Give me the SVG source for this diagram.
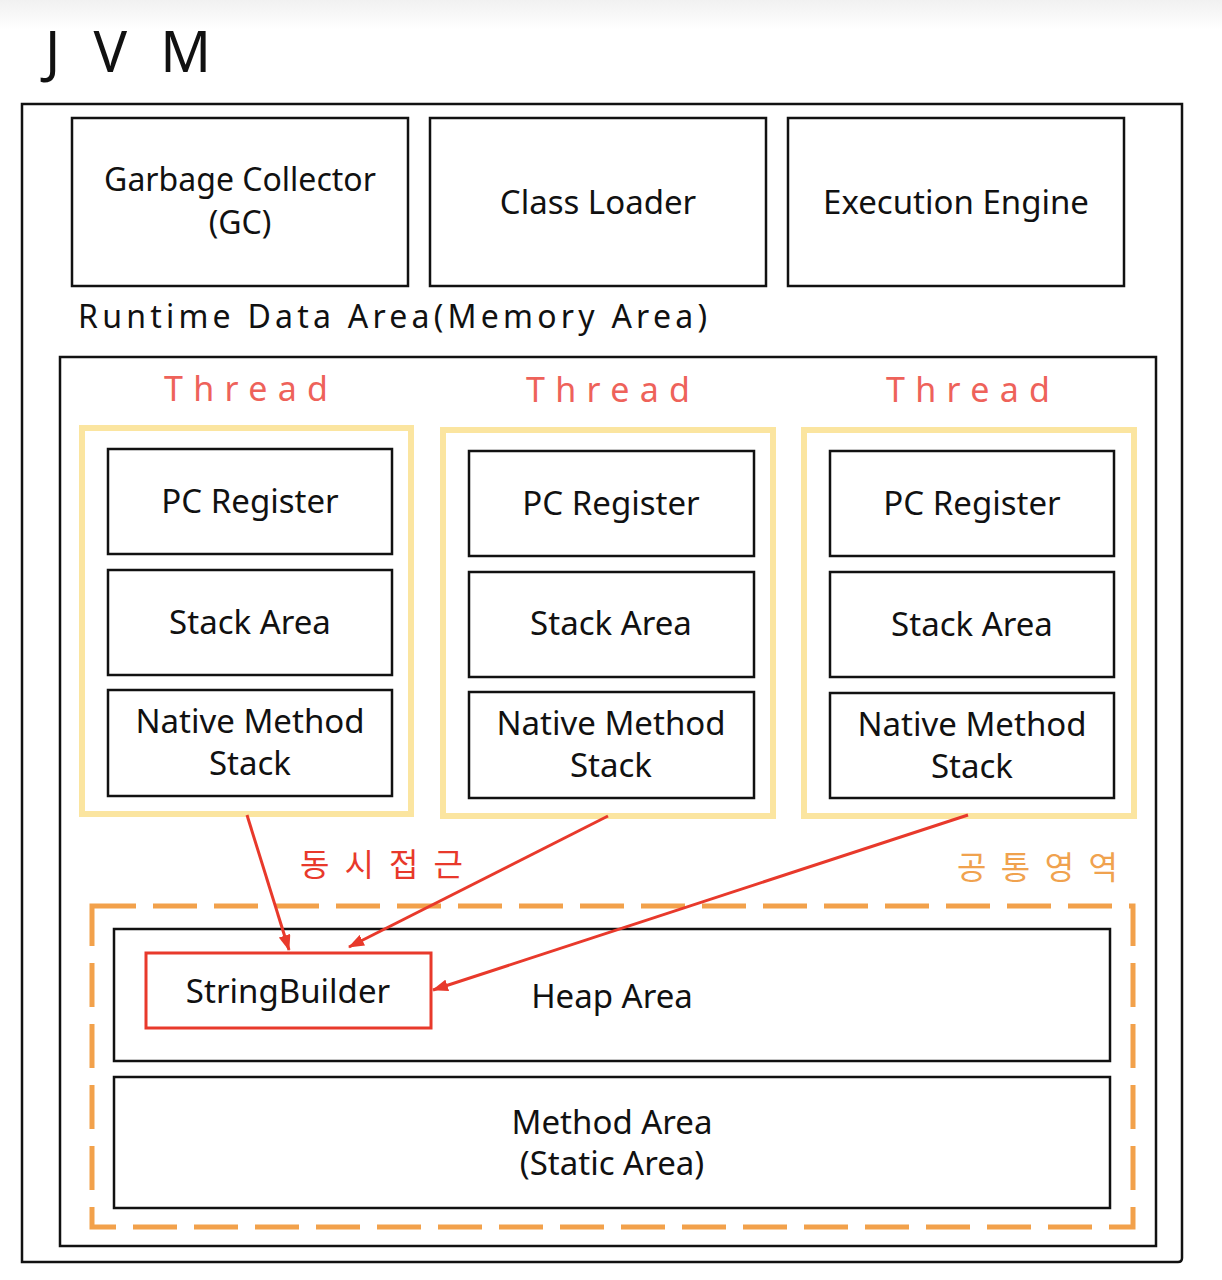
<svg xmlns="http://www.w3.org/2000/svg" width="1222" height="1280" viewBox="0 0 1222 1280">
<style>
  text { font-family: "Noto Sans", "Noto Sans CJK KR", "DejaVu Sans", sans-serif; fill: #111; }
  .box { fill: #fff; stroke: #111; stroke-width: 2.5; }
  .lbl { font-size: 33px; text-anchor: middle; }
  .thread { fill: none; stroke: #fbe5a0; stroke-width: 6; }
  .ttl { font-size: 34px; fill: #ee625a; }
  .conn { stroke: #e8392b; stroke-width: 3; fill: none; }
</style>
<defs>
  <linearGradient id="topfade" x1="0" y1="0" x2="0" y2="1">
    <stop offset="0" stop-color="#f1f1f1"/>
    <stop offset="1" stop-color="#ffffff"/>
  </linearGradient>
  <marker id="arr" viewBox="0 0 16 12" refX="15" refY="6" markerWidth="16" markerHeight="12" markerUnits="userSpaceOnUse" orient="auto">
    <path d="M0,0 L16,6 L0,12 Z" fill="#e8392b"/>
  </marker>
</defs>
<rect x="0" y="0" width="1222" height="1280" fill="#fff"/>
<rect x="0" y="0" width="1222" height="30" fill="url(#topfade)"/>

<text x="45" y="72" font-size="56" textLength="166" lengthAdjust="spacing">J V M</text>

<g id="jvm">
  <path d="M22,104 H1182 V1258 Q1182,1262 1178,1262 H22 Z" fill="none" stroke="#111" stroke-width="2.5"/>
</g>

<g id="gc">
  <rect class="box" x="72" y="118" width="336" height="168"/>
  <text class="lbl" x="240" y="191" font-size="32" style="font-size:32px">Garbage Collector</text>
  <text class="lbl" x="240" y="234" font-size="32" style="font-size:32px">(GC)</text>
</g>
<g id="classloader">
  <rect class="box" x="430" y="118" width="336" height="168"/>
  <text class="lbl" x="598" y="214">Class Loader</text>
</g>
<g id="engine">
  <rect class="box" x="788" y="118" width="336" height="168"/>
  <text class="lbl" x="956" y="214">Execution Engine</text>
</g>

<text x="78" y="328" font-size="32" textLength="629" lengthAdjust="spacing">Runtime Data Area(Memory Area)</text>

<g id="runtime">
  <rect x="60" y="357" width="1096" height="889" fill="none" stroke="#111" stroke-width="2.5"/>
</g>

<g id="thread1">
  <text class="ttl" x="164" y="401" textLength="164" lengthAdjust="spacing">Thread</text>
  <rect class="thread" x="82" y="428" width="329" height="386"/>
  <rect class="box" x="108" y="449" width="284" height="105"/>
  <text class="lbl" x="250" y="513">PC Register</text>
  <rect class="box" x="108" y="570" width="284" height="105"/>
  <text class="lbl" x="250" y="634">Stack Area</text>
  <rect class="box" x="108" y="690" width="284" height="106"/>
  <text class="lbl" x="250" y="733">Native Method</text>
  <text class="lbl" x="250" y="775">Stack</text>
</g>
<g id="thread2">
  <text class="ttl" x="526" y="402" textLength="164" lengthAdjust="spacing">Thread</text>
  <rect class="thread" x="443" y="430" width="330" height="386"/>
  <rect class="box" x="469" y="451" width="285" height="105"/>
  <text class="lbl" x="611" y="515">PC Register</text>
  <rect class="box" x="469" y="572" width="285" height="105"/>
  <text class="lbl" x="611" y="635">Stack Area</text>
  <rect class="box" x="469" y="692" width="285" height="106"/>
  <text class="lbl" x="611" y="735">Native Method</text>
  <text class="lbl" x="611" y="777">Stack</text>
</g>
<g id="thread3">
  <text class="ttl" x="886" y="402" textLength="164" lengthAdjust="spacing">Thread</text>
  <rect class="thread" x="804" y="430" width="330" height="386"/>
  <rect class="box" x="830" y="451" width="284" height="105"/>
  <text class="lbl" x="972" y="515">PC Register</text>
  <rect class="box" x="830" y="572" width="284" height="105"/>
  <text class="lbl" x="972" y="636">Stack Area</text>
  <rect class="box" x="830" y="693" width="284" height="105"/>
  <text class="lbl" x="972" y="736">Native Method</text>
  <text class="lbl" x="972" y="778">Stack</text>
</g>

<text x="300" y="876" font-size="32" style="fill:#e8392b" textLength="163" lengthAdjust="spacing">동시접근</text>
<text x="957" y="879" font-size="32" style="fill:#f0a24e" textLength="161" lengthAdjust="spacing">공통영역</text>

<g id="shared">
  <rect x="92" y="906" width="1041" height="321" fill="none" stroke="#f2a14b" stroke-width="5" stroke-dasharray="44 17"/>
</g>

<g id="heap">
  <rect class="box" x="114" y="929" width="996" height="132"/>
  <text class="lbl" x="612" y="1008">Heap Area</text>
</g>
<g id="stringbuilder">
  <rect x="146" y="953" width="285" height="75" fill="#fff" stroke="#e8392b" stroke-width="3"/>
  <text class="lbl" x="288" y="1003">StringBuilder</text>
</g>
<g id="method">
  <rect class="box" x="114" y="1077" width="996" height="131"/>
  <text class="lbl" x="612" y="1134">Method Area</text>
  <text class="lbl" x="612" y="1175">(Static Area)</text>
</g>

<g id="connectors">
  <line class="conn" x1="247" y1="815" x2="289" y2="950" marker-end="url(#arr)"/>
  <line class="conn" x1="608" y1="816" x2="349" y2="947" marker-end="url(#arr)"/>
  <line class="conn" x1="968" y1="815" x2="433" y2="990" marker-end="url(#arr)"/>
</g>
</svg>
